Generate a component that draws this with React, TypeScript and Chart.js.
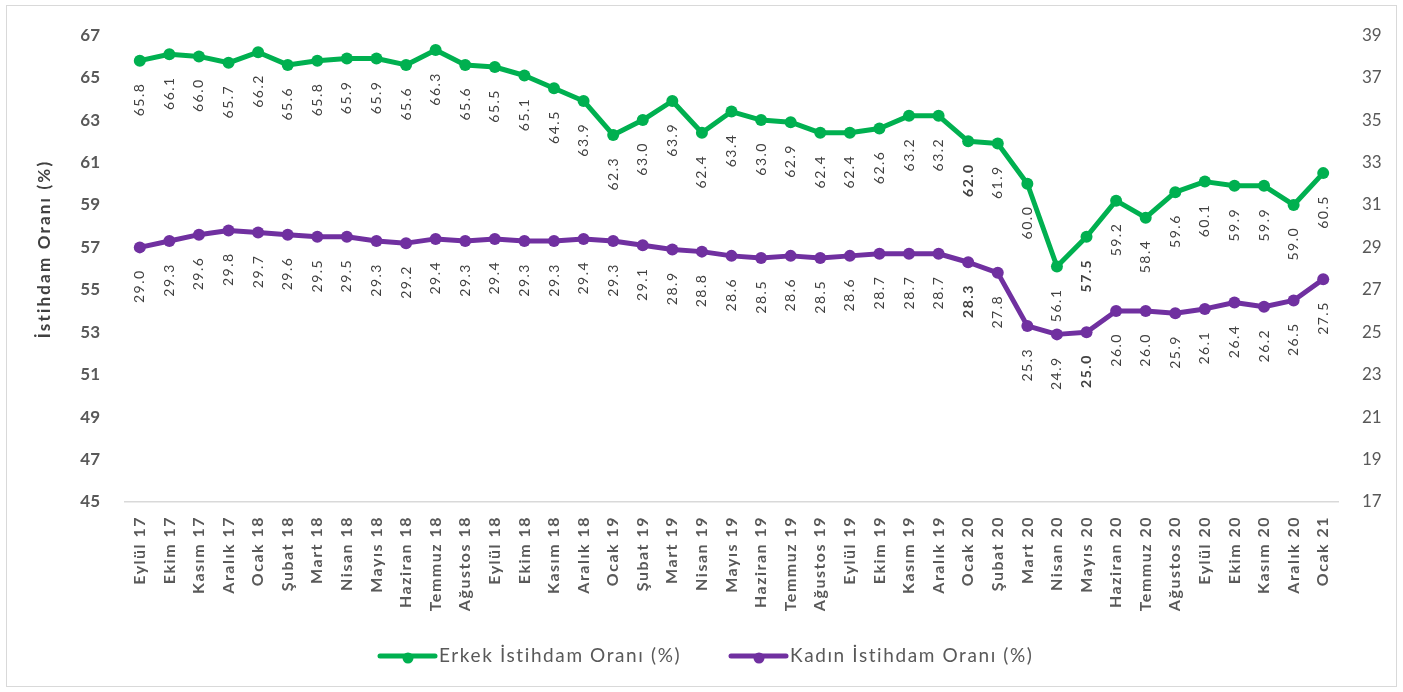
import React, { useEffect, useRef } from "react";
import { Chart, registerables } from "chart.js";

Chart.register(...registerables);

const categories = [
  "Eylül 17", "Ekim 17", "Kasım 17", "Aralık 17", "Ocak 18", "Şubat 18", "Mart 18", "Nisan 18",
  "Mayıs 18", "Haziran 18", "Temmuz 18", "Ağustos 18", "Eylül 18", "Ekim 18", "Kasım 18", "Aralık 18",
  "Ocak 19", "Şubat 19", "Mart 19", "Nisan 19", "Mayıs 19", "Haziran 19", "Temmuz 19", "Ağustos 19",
  "Eylül 19", "Ekim 19", "Kasım 19", "Aralık 19", "Ocak 20", "Şubat 20", "Mart 20", "Nisan 20",
  "Mayıs 20", "Haziran 20", "Temmuz 20", "Ağustos 20", "Eylül 20", "Ekim 20", "Kasım 20", "Aralık 20",
  "Ocak 21",
];

const maleRate = [
  65.8, 66.1, 66.0, 65.7, 66.2, 65.6, 65.8, 65.9, 65.9, 65.6, 66.3, 65.6, 65.5, 65.1, 64.5, 63.9,
  62.3, 63.0, 63.9, 62.4, 63.4, 63.0, 62.9, 62.4, 62.4, 62.6, 63.2, 63.2, 62.0, 61.9, 60.0, 56.1,
  57.5, 59.2, 58.4, 59.6, 60.1, 59.9, 59.9, 59.0, 60.5,
];

const femaleRate = [
  29.0, 29.3, 29.6, 29.8, 29.7, 29.6, 29.5, 29.5, 29.3, 29.2, 29.4, 29.3, 29.4, 29.3, 29.3, 29.4,
  29.3, 29.1, 28.9, 28.8, 28.6, 28.5, 28.6, 28.5, 28.6, 28.7, 28.7, 28.7, 28.3, 27.8, 25.3, 24.9,
  25.0, 26.0, 26.0, 25.9, 26.1, 26.4, 26.2, 26.5, 27.5,
];

const boldLabelIndices = [28, 32];

const leftMin = 45;
const leftMax = 67;
const rightMin = 17;
const rightMax = 39;
const tickStep = 2;

const maleLabel = "Erkek İstihdam Oranı (%)";
const femaleLabel = "Kadın İstihdam Oranı (%)";
const yTitle = "İstihdam Oranı (%)";

const GREEN = "#00B050";
const PURPLE = "#7030A0";
const FONT = "Lato, 'Noto Sans', sans-serif";

const fmt = (v: number) => v.toFixed(1);

const textPlugin = {
  id: "customText",
  afterDraw(chart: any) {
    const ctx: CanvasRenderingContext2D = chart.ctx;
    const xs = chart.scales.x;
    const area = chart.chartArea;

    // category labels
    ctx.save();
    ctx.font = `bold 16px ${FONT}`;
    (ctx as any).letterSpacing = "1.5px";
    ctx.fillStyle = "#595959";
    ctx.textAlign = "right";
    ctx.textBaseline = "middle";
    categories.forEach((c, i) => {
      const px = xs.getPixelForValue(i);
      ctx.save();
      ctx.translate(px, area.bottom + 14);
      ctx.rotate(-Math.PI / 2);
      ctx.fillText(c, 0, 0);
      ctx.restore();
    });
    ctx.restore();

    // data labels
    const series = [maleRate, femaleRate];
    series.forEach((vals, d) => {
      const meta = chart.getDatasetMeta(d);
      ctx.save();
      (ctx as any).letterSpacing = "1.5px";
      ctx.fillStyle = "#404040";
      ctx.textAlign = "right";
      ctx.textBaseline = "middle";
      vals.forEach((v, i) => {
        const pt = meta.data[i];
        if (!pt) return;
        const bold = boldLabelIndices.includes(i);
        ctx.font = `${bold ? "bold " : ""}14px ${FONT}`;
        ctx.save();
        ctx.translate(pt.x, pt.y + 22);
        ctx.rotate(-Math.PI / 2);
        ctx.fillText(fmt(v), 0, 0);
        ctx.restore();
      });
      ctx.restore();
    });

    // y axis title
    ctx.save();
    ctx.font = `bold 17px ${FONT}`;
    (ctx as any).letterSpacing = "2.2px";
    ctx.fillStyle = "#404040";
    ctx.textAlign = "center";
    ctx.textBaseline = "middle";
    ctx.translate(45, 249);
    ctx.rotate(-Math.PI / 2);
    ctx.fillText(yTitle, 0, 0);
    ctx.restore();

    // legend
    const legendY = 656;
    const items = [
      { x: 380, color: GREEN, text: maleLabel },
      { x: 731, color: PURPLE, text: femaleLabel },
    ];
    items.forEach((it) => {
      ctx.save();
      ctx.strokeStyle = it.color;
      ctx.lineWidth = 5;
      ctx.lineCap = "round";
      ctx.beginPath();
      ctx.moveTo(it.x, legendY);
      ctx.lineTo(it.x + 55, legendY);
      ctx.stroke();
      ctx.fillStyle = it.color;
      ctx.beginPath();
      ctx.arc(it.x + 28, legendY + 2, 5.5, 0, Math.PI * 2);
      ctx.fill();
      ctx.font = `19px ${FONT}`;
      (ctx as any).letterSpacing = "1.6px";
      ctx.fillStyle = "#595959";
      ctx.textAlign = "left";
      ctx.textBaseline = "middle";
      ctx.fillText(it.text, it.x + 59, legendY);
      ctx.restore();
    });
  },
};

export default function App() {
  const canvasRef = useRef<HTMLCanvasElement | null>(null);

  useEffect(() => {
    const canvas = canvasRef.current;
    if (!canvas) return;
    const chart = new Chart(canvas, {
      type: "line",
      data: {
        labels: categories,
        datasets: [
          {
            label: maleLabel,
            data: maleRate,
            yAxisID: "y",
            borderColor: GREEN,
            backgroundColor: GREEN,
            pointBackgroundColor: GREEN,
            pointBorderColor: GREEN,
            borderWidth: 5,
            pointRadius: 6,
            pointBorderWidth: 0,
            borderJoinStyle: "round",
            borderCapStyle: "round",
            tension: 0,
          },
          {
            label: femaleLabel,
            data: femaleRate,
            yAxisID: "y1",
            borderColor: PURPLE,
            backgroundColor: PURPLE,
            pointBackgroundColor: PURPLE,
            pointBorderColor: PURPLE,
            borderWidth: 5,
            pointRadius: 6,
            pointBorderWidth: 0,
            borderJoinStyle: "round",
            borderCapStyle: "round",
            tension: 0,
          },
        ],
      },
      options: {
        responsive: false,
        animation: false,
        layout: { padding: { top: 30, left: 0, right: 0, bottom: 0 } },
        plugins: {
          legend: { display: false },
          tooltip: { enabled: false },
        },
        scales: {
          x: {
            type: "category",
            offset: true,
            grid: { display: false, drawTicks: false },
            border: { display: true, color: "#d9d9d9", width: 1.5 },
            ticks: { display: false },
            afterFit: (s: any) => {
              s.height = 190;
            },
          },
          y: {
            position: "left",
            min: leftMin,
            max: leftMax,
            grid: { display: false, drawTicks: false },
            border: { display: false },
            ticks: {
              stepSize: tickStep,
              color: "#595959",
              padding: 25,
              font: { family: FONT, size: 17, weight: "bold" },
            },
            afterFit: (s: any) => {
              s.width = 125;
            },
          },
          y1: {
            position: "right",
            min: rightMin,
            max: rightMax,
            grid: { display: false, drawTicks: false },
            border: { display: false },
            ticks: {
              stepSize: tickStep,
              color: "#595959",
              padding: 24,
              font: { family: FONT, size: 17 },
            },
            afterFit: (s: any) => {
              s.width = 65;
            },
          },
        },
      },
      plugins: [textPlugin],
    } as any);

    const fonts = (document as any).fonts;
    if (fonts && fonts.load) {
      Promise.all([
        fonts.load(`bold 16px Lato`),
        fonts.load(`14px Lato`),
        fonts.load(`19px Lato`),
      ])
        .then(() => chart.update())
        .catch(() => {});
    }

    return () => chart.destroy();
  }, []);

  return (
    <div style={{ position: "absolute", left: 0, top: 0, width: 1403, height: 692, background: "#fff" }}>
      <div
        style={{
          position: "absolute",
          left: 6,
          top: 5,
          width: 1391,
          height: 682,
          border: "1px solid #d9d9d9",
          boxSizing: "border-box",
        }}
      />
      <canvas ref={canvasRef} width={1403} height={692} style={{ position: "absolute", left: 0, top: 0 }} />
    </div>
  );
}
